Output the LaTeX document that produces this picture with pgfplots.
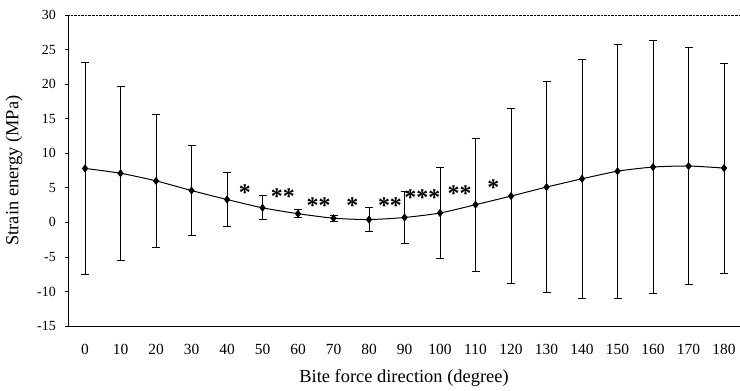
\documentclass[border=0pt]{standalone}
\usepackage{fontspec}
\setmainfont{Liberation Serif}
\usepackage{pgfplots}
\usepackage{pgfplotstable}
\pgfplotsset{compat=1.18}
\pgfplotstableread{
x y err
0 7.8 15.3
10 7.1 12.6
20 6.0 9.6
30 4.6 6.5
40 3.3 3.85
50 2.1 1.75
60 1.25 0.6
70 0.6 0.45
80 0.4 1.75
90 0.7 3.8
100 1.35 6.6
110 2.55 9.6
120 3.8 12.7
130 5.1 15.3
140 6.3 17.3
150 7.4 18.4
160 8.0 18.3
170 8.15 17.2
180 7.85 15.2
}\datatable
\begin{document}
\begin{tikzpicture}
\begin{axis}[
  name=ax,
  scale only axis,
  width=672bp, height=311bp,
  xmin=-4.8, xmax=184.5,
  ymin=-15, ymax=30,
  axis x line*=bottom, axis y line*=left,
  axis line style={black, line width=0.7bp},
  clip=false,
  xtick={0,10,...,180},
  xtick style={draw=none},
  extra x ticks={5,15,...,175},
  extra x tick labels={},
  extra x tick style={tick style={draw=black, line width=0.6bp}, major tick length=4bp, tick align=outside},
  ytick={-15,-10,...,25},
  yticklabels={-15,-10,-5,0,5,10,15,20,25},
  extra y ticks={30},
  extra y tick labels={30},
  extra y tick style={grid=major, major grid style={black, densely dotted, line width=0.6bp}},
  ytick style={draw=black, line width=0.6bp},
  tick align=outside,
  major tick length=3bp,
  /pgf/number format/assume math mode=true,
  xticklabel style={font=\fontsize{15.5}{15.5}\selectfont, anchor=center, yshift=-20bp},
  yticklabel style={font=\fontsize{14}{14}\selectfont, anchor=east, inner sep=0pt, xshift=-9bp},
  xlabel={Bite force direction (degree)},
  ylabel={Strain energy (MPa)},
  xlabel style={font=\fontsize{18.5}{18.5}\selectfont, at={(axis description cs:0.5,0)}, anchor=center, yshift=-52bp},
  ylabel style={font=\fontsize{18.5}{18.5}\selectfont, at={(axis description cs:0,0.5)}, anchor=center, yshift=54bp},
]
\addplot[black, line width=1bp, smooth, tension=0.4, mark=diamond*, mark size=3.3bp,
  mark options={solid, fill=black},
  error bars/.cd, y dir=both, y explicit,
  error bar style={black, line width=1bp},
  error mark options={black, line width=1bp, mark size=4bp, rotate=90}]
  table[x=x, y=y, y error=err] {\datatable};
\begin{scope}[every node/.style={font=\fontsize{24}{24}\selectfont\bfseries, anchor=base, inner sep=0pt, yshift=-11.8bp}]
\node at (axis cs:45,4.9) {*};
\node at (axis cs:55.7,4.3) {**};
\node at (axis cs:65.8,2.95) {**};
\node at (axis cs:75.3,2.95) {*};
\node at (axis cs:85.9,2.95) {**};
\node at (axis cs:95,4.15) {***};
\node at (axis cs:105.5,4.7) {**};
\node at (axis cs:115,5.6) {*};
\end{scope}
\end{axis}
\pgfresetboundingbox
\path ([shift={(-68bp,15bp)}]ax.north west) rectangle ([shift={(0bp,-65bp)}]ax.south east);
\end{tikzpicture}
\end{document}
